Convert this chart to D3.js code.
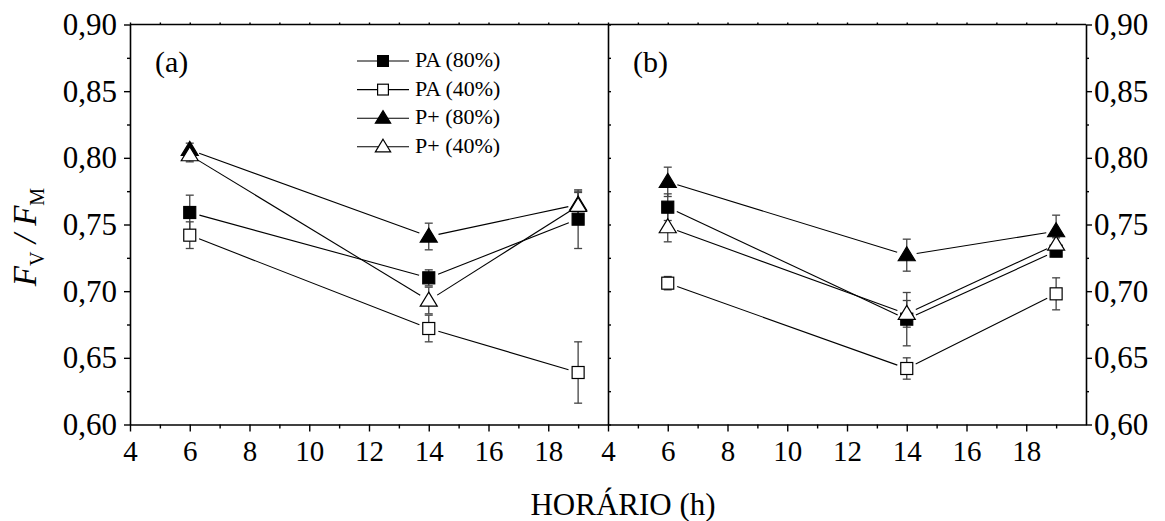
<!DOCTYPE html>
<html><head><meta charset="utf-8">
<script src="https://cdn.jsdelivr.net/npm/d3@7"></script>
<style>
html,body{margin:0;padding:0;background:#fff;}
svg, svg text{font-family:"Liberation Serif",Tinos,"Times New Roman","DejaVu Serif",serif;}
</style></head>
<body>
<svg id="c" width="1165" height="521"></svg>
<script>
// ---- data ----
const hours = [6, 14, 19];
const seriesNames = ["PA (80%)", "PA (40%)", "P+ (80%)", "P+ (40%)"];
const panelLabels = ["(a)", "(b)"];
const xTicks = [4, 6, 8, 10, 12, 14, 16, 18];
const xMinor = [5, 7, 9, 11, 13, 15, 17, 19];
const yTicks = [0.60, 0.65, 0.70, 0.75, 0.80, 0.85, 0.90];
const yMinor = [0.625, 0.675, 0.725, 0.775, 0.825, 0.875];

// panel (a)
const aPA80 = [0.759, 0.710, 0.754];
const aPA80err = [0.013, 0.006, 0.022];
const aPA40 = [0.742, 0.672, 0.639];
const aPA40err = [0.010, 0.010, 0.023];
const aP80 = [0.806, 0.741, 0.765];
const aP80err = [0.005, 0.010, 0.010];
const aP40 = [0.802, 0.693, 0.764];
const aP40err = [0.005, 0.010, 0.010];
// panel (b)
const bPA80 = [0.763, 0.679, 0.730];
const bPA80err = [0.010, 0.020, 0.004];
const bPA40 = [0.706, 0.642, 0.698];
const bPA40err = [0.005, 0.008, 0.012];
const bP80 = [0.782, 0.727, 0.745];
const bP80err = [0.011, 0.012, 0.012];
const bP40 = [0.748, 0.683, 0.735];
const bP40err = [0.011, 0.010, 0.005];

const markers = ["sqFill", "sqOpen", "triFill", "triOpen"];
const panels = [
  {label: panelLabels[0], vals: [aPA80, aPA40, aP80, aP40], errs: [aPA80err, aPA40err, aP80err, aP40err]},
  {label: panelLabels[1], vals: [bPA80, bPA40, bP80, bP40], errs: [bPA80err, bPA40err, bP80err, bP40err]}
];

// ---- layout ----
const FONT = '"Liberation Serif", Tinos, "Times New Roman", "DejaVu Serif", serif';
const svg = d3.select("#c");
const yTop = 24.5, yBot = 424.5;
const xs = [d3.scaleLinear([4, 20], [130, 608]), d3.scaleLinear([4, 20], [608, 1086])];
const y = d3.scaleLinear([0.60, 0.90], [yBot, yTop]);
const fmtY = d => d.toFixed(2).replace(".", ",");

function styleAxis(g, fs) {
  g.attr("font-family", FONT);
  g.selectAll("path.domain").attr("stroke", "#000").attr("stroke-width", 1.6);
  g.selectAll(".tick line").attr("stroke", "#000").attr("stroke-width", 1.4);
  g.selectAll(".tick text").attr("font-family", FONT).attr("font-size", fs).attr("fill", "#000");
}

function drawMarker(g, type, cx, cy, s = 1) {
  if (type.startsWith("sq")) {
    const h = 6 * s;
    g.append("rect").attr("x", cx - h).attr("y", cy - h).attr("width", 2 * h).attr("height", 2 * h)
      .attr("fill", type === "sqFill" ? "#000" : "#fff").attr("stroke", "#000").attr("stroke-width", 1.2);
  } else {
    const w = 8.5 * s, h = 14 * s;
    g.append("path").attr("d", `M${cx},${cy - h * 0.6}L${cx + w},${cy + h * 0.4}L${cx - w},${cy + h * 0.4}Z`)
      .attr("fill", type === "triFill" ? "#000" : "#fff").attr("stroke", "#000").attr("stroke-width", 1.2);
  }
}

svg.append("line").attr("x1", 130).attr("x2", 1086).attr("y1", yTop).attr("y2", yTop)
  .attr("stroke", "#000").attr("stroke-width", 1.6);

panels.forEach((p, pi) => {
  const x = xs[pi];
  const gb = svg.append("g").attr("transform", `translate(0,${yBot})`)
    .call(d3.axisBottom(x).tickValues(xTicks).tickSize(7).tickSizeOuter(0).tickPadding(9).tickFormat(d3.format("d")));
  styleAxis(gb, 29);
  const gbm = svg.append("g").attr("transform", `translate(0,${yBot})`)
    .call(d3.axisBottom(x).tickValues(xMinor).tickSize(4).tickSizeOuter(0).tickFormat(""));
  styleAxis(gbm, 29);
  gbm.select("path.domain").remove();
  const gt = svg.append("g").attr("transform", `translate(0,${yTop})`)
    .call(d3.axisTop(x).tickValues(xTicks.concat(xMinor)).tickSize(2).tickSizeOuter(0).tickFormat(""));
  styleAxis(gt, 29);
  gt.select("path.domain").remove();

  svg.append("text").attr("x", x(4) + 25).attr("y", 72).attr("font-family", FONT).attr("font-size", 30).text(p.label);

  const gap = 10;
  p.vals.forEach((vals) => {
    for (let i = 0; i < hours.length - 1; i++) {
      const x1 = x(hours[i]), y1 = y(vals[i]), x2 = x(hours[i + 1]), y2 = y(vals[i + 1]);
      const L = Math.hypot(x2 - x1, y2 - y1), ux = (x2 - x1) / L, uy = (y2 - y1) / L;
      svg.append("line").attr("x1", x1 + ux * gap).attr("y1", y1 + uy * gap)
        .attr("x2", x2 - ux * gap).attr("y2", y2 - uy * gap)
        .attr("stroke", "#000").attr("stroke-width", 1.1);
    }
  });
  p.vals.forEach((vals, si) => {
    const errs = p.errs[si];
    vals.forEach((v, i) => {
      const cx = x(hours[i]);
      const g = svg.append("g").attr("stroke", "#444").attr("stroke-width", 1.3);
      g.append("line").attr("x1", cx).attr("x2", cx).attr("y1", y(v + errs[i])).attr("y2", y(v - errs[i]));
      [v + errs[i], v - errs[i]].forEach(e => g.append("line").attr("x1", cx - 4).attr("x2", cx + 4).attr("y1", y(e)).attr("y2", y(e)));
    });
  });
  p.vals.forEach((vals, si) => {
    vals.forEach((v, i) => drawMarker(svg, markers[si], x(hours[i]), y(v)));
  });
});

svg.append("g").attr("transform", `translate(608,0)`)
  .call(d3.axisRight(y).tickValues(yTicks.concat(yMinor)).tickSize(3).tickSizeOuter(0).tickFormat(""))
  .call(g => styleAxis(g, 29));

const gl = svg.append("g").attr("transform", "translate(130,0)")
  .call(d3.axisLeft(y).tickValues(yTicks).tickSize(6).tickSizeOuter(0).tickPadding(7).tickFormat(fmtY));
styleAxis(gl, 31);
const glm = svg.append("g").attr("transform", "translate(130,0)")
  .call(d3.axisLeft(y).tickValues(yMinor).tickSize(3).tickSizeOuter(0).tickFormat(""));
styleAxis(glm, 31); glm.select("path.domain").remove();
const gr = svg.append("g").attr("transform", "translate(1086,0)")
  .call(d3.axisRight(y).tickValues(yTicks).tickSize(6).tickSizeOuter(0).tickPadding(2).tickFormat(fmtY));
styleAxis(gr, 31);
const grm = svg.append("g").attr("transform", "translate(1086,0)")
  .call(d3.axisRight(y).tickValues(yMinor).tickSize(3).tickSizeOuter(0).tickFormat(""));
styleAxis(grm, 31); grm.select("path.domain").remove();

const lx = 357, ly0 = 61, ldy = 28.6;
seriesNames.forEach((name, i) => {
  const ly = ly0 + i * ldy;
  svg.append("line").attr("x1", lx).attr("x2", lx + 52).attr("y1", ly).attr("y2", ly).attr("stroke", "#000").attr("stroke-width", 1.1);
  drawMarker(svg, markers[i], lx + 26, ly, 0.9);
  svg.append("text").attr("x", lx + 58).attr("y", ly + 6).attr("font-family", FONT).attr("font-size", 22).text(name);
});

svg.append("text").attr("x", 623).attr("y", 515).attr("text-anchor", "middle").attr("font-family", FONT).attr("font-size", 31).text("HORÁRIO (h)");
const yt = svg.append("text").attr("transform", "translate(36,237) rotate(-90)").attr("text-anchor", "middle")
  .attr("font-family", FONT).attr("font-size", 33).attr("font-style", "italic");
yt.append("tspan").text("F");
yt.append("tspan").attr("font-size", 20).attr("font-style", "normal").attr("dy", 8).text("V");
yt.append("tspan").attr("dy", -8).text(" / F");
yt.append("tspan").attr("font-size", 20).attr("font-style", "normal").attr("dy", 8).text("M");
</script>
</body></html>
